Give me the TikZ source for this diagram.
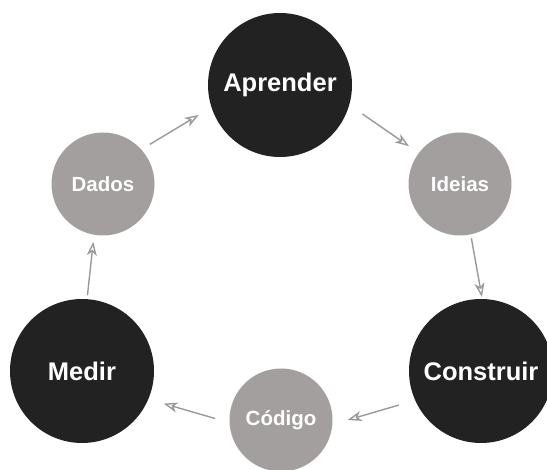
\documentclass[tikz,border=0pt]{standalone}
\usepackage{fontspec}
\setmainfont{Liberation Sans}
\usetikzlibrary{arrows.meta}

\definecolor{escuro}{HTML}{222222}
\definecolor{cinza}{HTML}{A39F9E}
\definecolor{seta}{HTML}{999999}

\tikzset{
  etapa/.style={circle, fill=escuro, minimum size=144pt, inner sep=0pt, outer sep=0pt,
    text=white, font=\fontsize{25.5}{30}\selectfont\bfseries},
  artefato/.style={circle, fill=cinza, minimum size=103pt, inner sep=0pt, outer sep=0pt,
    text=white, font=\fontsize{20.5}{24}\selectfont\bfseries},
  ciclo/.style={draw=seta, line width=1.4pt,
    -{Stealth[open, length=14pt, width=10pt, inset=4pt]}}
}

\begin{document}
\begin{tikzpicture}[x=1pt, y=-1pt]
\useasboundingbox (0,0) rectangle (547,470);

\node[etapa] (aprender) at (280,85) {Aprender};
\node[artefato] (ideias) at (460,184) {Ideias};
\node[etapa] (construir) at (481,371) {Construir};
\node[artefato] (codigo) at (281,420) {Código};
\node[etapa] (medir) at (82,371) {Medir};
\node[artefato] (dados) at (103,184) {Dados};

\draw[ciclo, shorten <=10pt, shorten >=15pt] (dados.42) -- (aprender.198);
\draw[ciclo, shorten <=16pt, shorten >=12pt] (aprender.-16) -- (ideias.143);
\draw[ciclo, shorten <=4pt, shorten >=2pt] (ideias.-78) -- (construir.89);
\draw[ciclo, shorten <=17pt, shorten >=16pt] (construir.204) -- (codigo.-5);
\draw[ciclo, shorten <=15pt, shorten >=16pt] (codigo.183) -- (medir.-23);
\draw[ciclo, shorten <=4pt, shorten >=7pt] (medir.86) -- (dados.260);
\end{tikzpicture}
\end{document}
